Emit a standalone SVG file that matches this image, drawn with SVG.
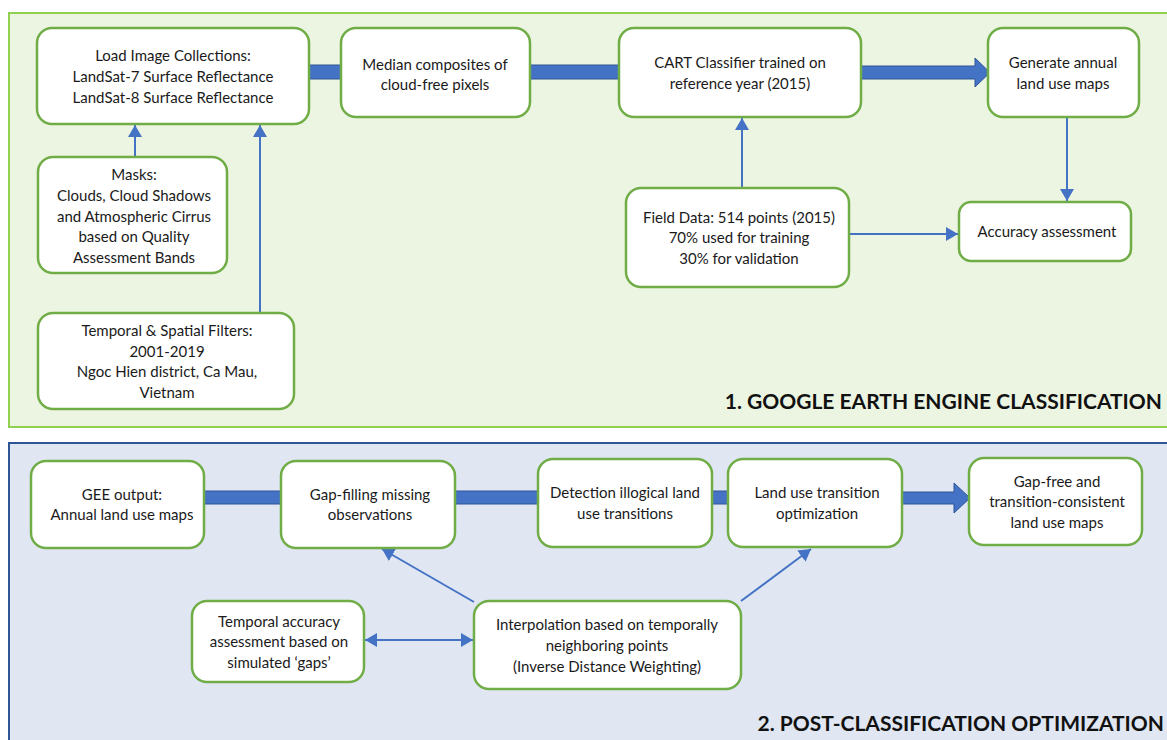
<svg xmlns="http://www.w3.org/2000/svg" width="1167" height="740" viewBox="0 0 1167 740">
<style>
.node rect{fill:#ffffff;stroke:#70ad47;stroke-width:2.5}
.node text{font-family:Lato,"Open Sans","Liberation Sans",sans-serif;font-size:15px;fill:#1a1a1a;text-anchor:middle}
.title{font-family:Lato,"Liberation Sans",sans-serif;font-size:21px;font-weight:bold;fill:#111111;text-anchor:end}
.thin{stroke:#4472c4;stroke-width:2;fill:none}
.bar{fill:#4472c4;stroke:#2f5597;stroke-width:1}
</style>
<defs>
<marker id="ah" viewBox="0 0 12 14" refX="12" refY="7" markerWidth="12" markerHeight="14" markerUnits="userSpaceOnUse" orient="auto-start-reverse">
<path d="M0,0 L12,7 L0,14 Z" fill="#4472c4"/>
</marker>
</defs>
<rect id="panel1" x="9" y="13" width="1170" height="414" fill="#ecf5e2" stroke="#92d050" stroke-width="2"/>
<rect id="panel2" x="9" y="443" width="1170" height="310" fill="#e0e7f3" stroke="#2f5597" stroke-width="2"/>
<text class="title" x="1162" y="409">1. GOOGLE EARTH ENGINE CLASSIFICATION</text>
<text class="title" x="1164" y="731">2. POST-CLASSIFICATION OPTIMIZATION</text>
<g id="connectors">
<rect class="bar" x="307" y="65" width="35" height="14"/>
<rect class="bar" x="530" y="65" width="89" height="14"/>
<path class="bar" d="M861,66 L975,66 L975,58 L990,72.5 L975,87 L975,79 L861,79 Z"/>
<line class="thin" x1="135" y1="157" x2="135" y2="125" marker-end="url(#ah)"/>
<line class="thin" x1="260" y1="313" x2="260" y2="125" marker-end="url(#ah)"/>
<line class="thin" x1="742" y1="188" x2="742" y2="118" marker-end="url(#ah)"/>
<line class="thin" x1="1067" y1="117" x2="1067" y2="201" marker-end="url(#ah)"/>
<line class="thin" x1="849" y1="234" x2="958" y2="234" marker-end="url(#ah)"/>
<rect class="bar" x="204" y="491" width="77" height="13"/>
<rect class="bar" x="455" y="491" width="83" height="13"/>
<rect class="bar" x="712" y="491" width="16" height="13"/>
<path class="bar" d="M902,492 L954,492 L954,483 L970,498 L954,513 L954,504 L902,504 Z"/>
<line class="thin" x1="474" y1="602" x2="382" y2="549" marker-end="url(#ah)"/>
<line class="thin" x1="741" y1="601" x2="811" y2="549" marker-end="url(#ah)"/>
<line class="thin" x1="365" y1="640" x2="473" y2="640" marker-start="url(#ah)" marker-end="url(#ah)"/>
</g>
<g id="load" class="node"><rect x="37" y="28" width="272" height="96" rx="15"/>
<text x="173" y="61">Load Image Collections:</text><text x="173" y="82">LandSat-7 Surface Reflectance</text><text x="173" y="103">LandSat-8 Surface Reflectance</text></g>
<g id="median" class="node"><rect x="341" y="28" width="189" height="89" rx="15"/>
<text x="435" y="70">Median composites of</text><text x="435" y="90">cloud-free pixels</text></g>
<g id="cart" class="node"><rect x="619" y="28" width="242" height="89" rx="15"/>
<text x="740" y="68">CART Classifier trained on</text><text x="740" y="89">reference year (2015)</text></g>
<g id="generate" class="node"><rect x="988" y="28" width="151" height="89" rx="15"/>
<text x="1063" y="68">Generate annual</text><text x="1063" y="89">land use maps</text></g>
<g id="masks" class="node"><rect x="38" y="157" width="189" height="116" rx="15"/>
<text x="134" y="180">Masks:</text><text x="134" y="201">Clouds, Cloud Shadows</text><text x="134" y="222">and Atmospheric Cirrus</text><text x="134" y="242">based on Quality</text><text x="134" y="263">Assessment Bands</text></g>
<g id="filters" class="node"><rect x="38" y="313" width="256" height="96" rx="15"/>
<text x="167" y="336">Temporal &amp; Spatial Filters:</text><text x="167" y="357">2001-2019</text><text x="167" y="377">Ngoc Hien district, Ca Mau,</text><text x="167" y="398">Vietnam</text></g>
<g id="field" class="node"><rect x="626" y="188" width="223" height="99" rx="15"/>
<text x="739" y="223">Field Data: 514 points (2015)</text><text x="739" y="243">70% used for training</text><text x="739" y="264">30% for validation</text></g>
<g id="accuracy" class="node"><rect x="959" y="202" width="172" height="59" rx="12"/>
<text x="1047" y="237">Accuracy assessment</text></g>
<g id="gee" class="node"><rect x="31" y="461" width="173" height="87" rx="15"/>
<text x="122" y="500">GEE output:</text><text x="122" y="520">Annual land use maps</text></g>
<g id="gapfill" class="node"><rect x="281" y="461" width="174" height="87" rx="15"/>
<text x="370" y="500">Gap-filling missing</text><text x="370" y="520">observations</text></g>
<g id="detection" class="node"><rect x="538" y="459" width="174" height="88" rx="15"/>
<text x="625" y="498">Detection illogical land</text><text x="625" y="519">use transitions</text></g>
<g id="transition" class="node"><rect x="728" y="459" width="174" height="88" rx="15"/>
<text x="817" y="498">Land use transition</text><text x="817" y="519">optimization</text></g>
<g id="gapfree" class="node"><rect x="969" y="458" width="173" height="87" rx="15"/>
<text x="1057" y="487">Gap-free and</text><text x="1057" y="507">transition-consistent</text><text x="1057" y="528">land use maps</text></g>
<g id="tempacc" class="node"><rect x="192" y="601" width="172" height="81" rx="15"/>
<text x="279" y="627">Temporal accuracy</text><text x="279" y="647">assessment based on</text><text x="279" y="668">simulated ‘gaps’</text></g>
<g id="interp" class="node"><rect x="474" y="601" width="267" height="88" rx="15"/>
<text x="607" y="630">Interpolation based on temporally</text><text x="607" y="651">neighboring points</text><text x="607" y="672">(Inverse Distance Weighting)</text></g>
</svg>
